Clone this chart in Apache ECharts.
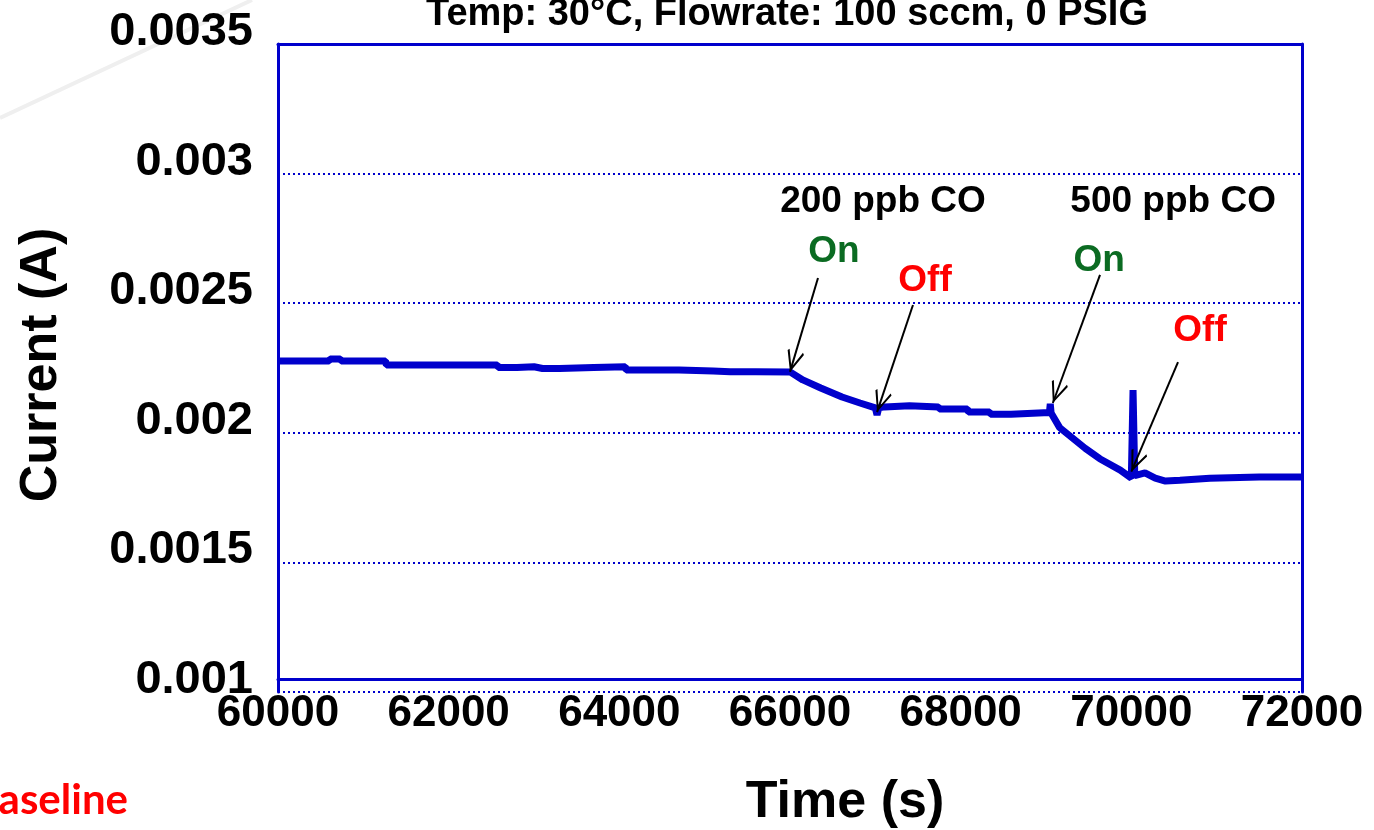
<!DOCTYPE html>
<html>
<head>
<meta charset="utf-8">
<script src="https://cdn.jsdelivr.net/npm/echarts@6/dist/echarts.min.js"></script>
<style>
  html, body { margin: 0; padding: 0; background: #ffffff; }
  #chart { width: 1374px; height: 830px; }
</style>
</head>
<body>
<div id="chart"></div>
<script>
// Sensor current vs. time during two CO exposures
const timeS = [
  60000, 60600, 60610, 60730, 60740, 61260, 61270, 61440, 61450, 61500,
  62570, 62580, 62800, 62810, 63000, 63100, 63300, 63310, 63700, 63710,
  64070, 64080, 64700, 64710, 65100, 65110, 65300, 65600, 66000,
  66150, 66360, 66610, 66820, 67000, 67020, 67040, 67110, 67400, 67740,
  67750, 68080, 68090, 68340, 68350, 68590, 68600, 69040, 69050, 69060,
  69160, 69460, 69630, 69870, 70000, 70020, 70040, 70160, 70280, 70400,
  70570, 70920, 71500, 72000
];
const currentA = [
  0.002277, 0.002277, 0.002285, 0.002285, 0.002277, 0.002277, 0.002262, 0.002262, 0.002258, 0.002262,
  0.002262, 0.002252, 0.002252, 0.002255, 0.002255, 0.002248, 0.002248, 0.002252, 0.002252, 0.002255,
  0.002255, 0.002242, 0.002242, 0.002238, 0.002238, 0.002232, 0.002236, 0.002236, 0.002235,
  0.002204, 0.002173, 0.002138, 0.002115, 0.002096, 0.002069, 0.002096, 0.002100, 0.002104, 0.002100,
  0.002092, 0.002092, 0.002080, 0.002080, 0.002072, 0.002072, 0.002078, 0.002078, 0.002112, 0.002076,
  0.002020, 0.001940, 0.001900, 0.001856, 0.001825, 0.002165, 0.001835, 0.001845, 0.001825, 0.001814,
  0.001817, 0.001825, 0.001829, 0.001829
];

// Axis ticks
const xTickValues = [60000, 62000, 64000, 66000, 68000, 70000, 72000];
const xTickLabels = ['60000', '62000', '64000', '66000', '68000', '70000', '72000'];
const yTickValues = [0.001, 0.0015, 0.002, 0.0025, 0.003, 0.0035];
const yTickLabels = ['0.001', '0.0015', '0.002', '0.0025', '0.003', '0.0035'];

// Gas exposure annotations: label text and where it sits
const noteTexts  = ['200 ppb CO', '500 ppb CO', 'On', 'Off', 'On', 'Off'];
const noteTimes  = [67090, 70490, 66516, 67582, 69622, 70805];
const noteValues = [0.002892, 0.002892, 0.002700, 0.002585, 0.002662, 0.002392];
const noteKinds  = ['gas', 'gas', 'on', 'off', 'on', 'off'];

// Arrows from the On/Off labels to the switching points on the trace
const arrowFromTime  = [66328, 67441, 69633, 70547];
const arrowFromValue = [0.002597, 0.002493, 0.002609, 0.002273];
const arrowToTime    = [66000, 67020, 69080, 70000];
const arrowToValue   = [0.002235, 0.002080, 0.002115, 0.001850];

const BLUE = '#0000cc';
const FONT = "'Liberation Sans', Arial, Helvetica, sans-serif";
const noteColor = { gas: '#000000', on: '#0b6b22', off: '#ff0000' };

function labelFor(values, labels) {
  return function (v) {
    for (let i = 0; i < values.length; i++) {
      if (Math.abs(values[i] - v) < 1e-9 * Math.max(1, Math.abs(v))) return labels[i];
    }
    return '';
  };
}

// open V arrow head; the tip sits at the centre of the symbol box
const arrowHead = 'path://M50,0 L50.4,0.6 L49.6,0.6 Z M50,100 L100,192 L91,200 L50,122 L9,200 L0,192 Z';

const chart = echarts.init(document.getElementById('chart'), null, { renderer: 'canvas' });

const option = {
  animation: false,
  backgroundColor: '#ffffff',
  title: {
    text: 'Temp: 30°C, Flowrate: 100 sccm, 0 PSIG',
    left: 426,
    top: -4,
    padding: 0,
    textStyle: { fontFamily: FONT, fontSize: 38, fontWeight: 'bold', color: '#000000' }
  },
  grid: { left: 278, right: 72, top: 44, bottom: 138, containLabel: false, outerBoundsMode: 'none' },
  xAxis: [
    {
      type: 'value',
      min: 60000, max: 72000, interval: 2000,
      position: 'bottom',
      offset: -13,
      axisLine: { show: true, onZero: false, lineStyle: { color: BLUE, width: 3 } },
      axisTick: { show: false },
      splitLine: { show: false },
      axisLabel: {
        fontFamily: FONT, fontSize: 44, fontWeight: 'bold', color: '#000000', margin: 13,
        formatter: labelFor(xTickValues, xTickLabels)
      },
      name: 'Time (s)',
      nameLocation: 'middle',
      nameGap: 98,
      nameTextStyle: { fontFamily: FONT, fontSize: 52, fontWeight: 'bold', color: '#000000', padding: [0, 0, 0, 110] }
    },
    {
      type: 'value',
      min: 60000, max: 72000, interval: 2000,
      position: 'top',
      axisLine: { show: true, onZero: false, lineStyle: { color: BLUE, width: 3 } },
      axisTick: { show: false },
      axisLabel: { show: false },
      splitLine: { show: false }
    }
  ],
  yAxis: [
    {
      type: 'value',
      min: 0.001, max: 0.0035, interval: 0.0005,
      position: 'left',
      axisLine: { show: true, onZero: false, lineStyle: { color: BLUE, width: 3 } },
      axisTick: { show: false },
      splitLine: { show: true, lineStyle: { color: BLUE, width: 2, type: [2, 3] } },
      axisLabel: {
        fontFamily: FONT, fontSize: 47, fontWeight: 'bold', color: '#000000', margin: 25,
        verticalAlign: 'bottom',
        lineHeight: 24,
        formatter: labelFor(yTickValues, yTickLabels)
      },
      name: 'Current (A)',
      nameLocation: 'middle',
      nameRotate: 90,
      nameGap: 210,
      nameTextStyle: { fontFamily: FONT, fontSize: 52, fontWeight: 'bold', color: '#000000', padding: [0, 0, 0, 6] }
    },
    {
      type: 'value',
      min: 0.001, max: 0.0035, interval: 0.0005,
      position: 'right',
      axisLine: { show: true, onZero: false, lineStyle: { color: BLUE, width: 3 } },
      axisTick: { show: false },
      axisLabel: { show: false },
      splitLine: { show: false }
    }
  ],
  series: [
    {
      type: 'line',
      xAxisIndex: 0,
      yAxisIndex: 0,
      data: timeS.map((t, i) => [t, currentA[i]]),
      showSymbol: false,
      symbol: 'none',
      lineStyle: { color: BLUE, width: 7, join: 'bevel' },
      silent: true,
      z: 3,
      markLine: {
        silent: true,
        symbol: ['none', arrowHead],
        symbolSize: [17, 44],
        label: { show: false },
        lineStyle: { color: '#000000', width: 2, type: 'solid' },
        emphasis: { disabled: true },
        data: arrowFromTime.map((t, i) => [
          { coord: [t, arrowFromValue[i]] },
          { coord: [arrowToTime[i], arrowToValue[i]] }
        ])
      },
      markPoint: {
        silent: true,
        symbol: 'rect',
        symbolSize: 1,
        itemStyle: { color: 'rgba(0,0,0,0)' },
        data: noteTexts.map((txt, i) => ({
          coord: [noteTimes[i], noteValues[i]],
          label: {
            show: true,
            position: 'inside',
            formatter: txt,
            fontFamily: FONT,
            fontSize: 37,
            fontWeight: 'bold',
            color: noteColor[noteKinds[i]]
          }
        }))
      }
    }
  ],
  graphic: [
    {
      type: 'line',
      silent: true,
      z: -10,
      shape: { x1: 0, y1: 118, x2: 252, y2: 0 },
      style: { stroke: '#efefef', lineWidth: 4 }
    },
    {
      type: 'text',
      silent: true,
      style: {
        text: 'Baseline',
        x: 128,
        y: 800,
        align: 'right',
        verticalAlign: 'middle',
        fill: '#ff0000',
        font: "bold 42px Lato, 'Open Sans', sans-serif"
      }
    }
  ]
};

chart.setOption(option);
</script>
</body>
</html>
